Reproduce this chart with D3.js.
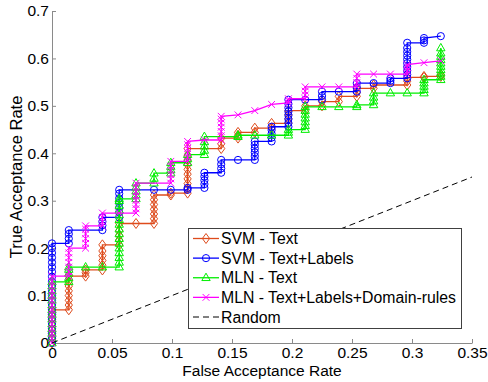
<!DOCTYPE html>
<html>
<head>
<meta charset="utf-8">
<script src="https://cdn.jsdelivr.net/npm/d3@7"></script>
<style>
  body { margin: 0; background: #fff; }
  svg { display: block; font-family: "Liberation Sans", Arial, sans-serif; }
</style>
</head>
<body>
<div id="chart"></div>
<script>
// ROC points, one entry per FAR column: [far, [tar values stacked at that far]]
const svmText = [
  [0.000, [0, .01, .02, .03, .04, .05, .06, .07]],
  [0.014, [.07, .08, .09, .10, .11, .12, .13, .141]],
  [0.028, [.141, .148, .154]],
  [0.042, [.154, .164, .174, .184, .194, .207]],
  [0.056, [.207, .217, .227, .237, .252]],
  [0.070, [.252]],
  [0.085, [.252, .262, .272, .282, .292, .302, .312]],
  [0.099, [.312, .316]],
  [0.113, [.316, .326, .336, .346, .356, .366, .376, .386, .396, .41]],
  [0.141, [.41, .42, .432]],
  [0.155, [.432, .438, .444]],
  [0.169, [.444, .453]],
  [0.183, [.453, .463]],
  [0.197, [.463, .473, .482, .49]],
  [0.211, [.49, .5]],
  [0.225, [.5, .509]],
  [0.239, [.509, .52]],
  [0.254, [.52, .528, .537]],
  [0.268, [.537, .544]],
  [0.296, [.544, .552, .56]],
  [0.310, [.56, .562]],
  [0.324, [.562, .566]]
];

const svmTextLabels = [
  [0.000, [0, .01, .02, .03, .04, .05, .06, .07, .08, .09, .10, .11, .12, .13, .14, .15, .16, .17, .18, .19, .20, .21]],
  [0.014, [.21, .22, .23, .238]],
  [0.042, [.238, .248, .256, .265]],
  [0.056, [.265, .275, .285, .295, .305, .315, .323]],
  [0.085, [.323]],
  [0.099, [.323]],
  [0.113, [.323, .327]],
  [0.127, [.327, .335, .343, .351, .359]],
  [0.141, [.359, .368, .377, .386]],
  [0.155, [.386]],
  [0.169, [.386, .394, .402, .41, .418, .425]],
  [0.183, [.425, .433, .441, .449, .456]],
  [0.197, [.456, .464, .472, .48, .488, .496, .504, .513]],
  [0.211, [.513]],
  [0.225, [.513, .521, .53]],
  [0.239, [.53]],
  [0.254, [.53, .539, .548]],
  [0.268, [.548]],
  [0.282, [.548, .553, .558]],
  [0.296, [.558, .566, .574, .582, .59, .598, .606, .614, .622, .633]],
  [0.310, [.633, .638, .643]],
  [0.324, [.647]]
];

const mlnText = [
  [0.000, [0, .01, .02, .03, .04, .05, .06, .07, .08, .09, .10, .11, .12, .129]],
  [0.014, [.129, .138, .147, .155, .16]],
  [0.028, [.16]],
  [0.042, [.16]],
  [0.056, [.16, .17, .18, .19, .20, .21, .22, .23, .24, .25, .26, .27, .28, .29, .30, .304]],
  [0.070, [.304, .312, .32, .328, .337]],
  [0.085, [.337, .347, .358]],
  [0.099, [.358, .365, .372, .38]],
  [0.113, [.38, .388, .397]],
  [0.127, [.397, .406, .415, .424, .435]],
  [0.155, [.435, .438]],
  [0.169, [.438]],
  [0.183, [.438]],
  [0.197, [.438, .444, .45]],
  [0.211, [.45, .458, .466, .474, .482, .49, .498]],
  [0.225, [.498]],
  [0.239, [.498]],
  [0.254, [.498, .502]],
  [0.268, [.502, .51, .518, .527]],
  [0.282, [.527]],
  [0.296, [.527]],
  [0.310, [.527, .534, .541, .548, .555]],
  [0.324, [.555, .562, .569, .576, .583, .59, .597, .604, .611, .622]]
];

const mlnFull = [
  [0.000, [0, .01, .02, .03, .04, .05, .06, .07, .08, .09, .10, .11, .12, .13, .141]],
  [0.014, [.141, .15, .16, .17, .18, .19, .2]],
  [0.028, [.2, .21, .22, .23, .24, .247]],
  [0.042, [.247, .256, .265, .274]],
  [0.056, [.274]],
  [0.070, [.274, .283, .292, .301, .31, .319, .328, .337]],
  [0.099, [.337, .346, .355, .364, .373, .383]],
  [0.113, [.383, .392, .401, .41, .418, .425]],
  [0.127, [.428]],
  [0.141, [.428, .437, .446, .455, .464, .472, .478]],
  [0.155, [.481]],
  [0.169, [.49]],
  [0.183, [.503]],
  [0.197, [.506, .511, .515]],
  [0.211, [.515, .523, .531, .54]],
  [0.225, [.54]],
  [0.239, [.54]],
  [0.254, [.54, .549, .558, .567]],
  [0.268, [.567]],
  [0.282, [.567]],
  [0.296, [.567, .574, .581, .587]],
  [0.310, [.591]],
  [0.324, [.595]]
];

const randomLine = [[0, 0], [0.35, 0.35]];

const xTicks = [0, 0.05, 0.1, 0.15, 0.2, 0.25, 0.3, 0.35];
const yTicks = [0, 0.1, 0.2, 0.3, 0.4, 0.5, 0.6, 0.7];

const seriesNames = ["SVM - Text", "SVM - Text+Labels", "MLN - Text", "MLN - Text+Labels+Domain-rules", "Random"];

// marker shapes (MATLAB-ish)
const markers = {
  diamond: "M0,-5L3.6,0L0,5L-3.6,0Z",
  circle: d3.symbol().type(d3.symbolCircle).size(Math.PI * 3.6 * 3.6)(),
  triangle: "M0,-4.6L4.2,2.8L-4.2,2.8Z",
  cross: "M-3.4,-3.4L3.4,3.4M-3.4,3.4L3.4,-3.4"
};

const series = [
  { name: seriesNames[0], data: svmText, color: "#de4b1c", marker: "diamond" },
  { name: seriesNames[1], data: svmTextLabels, color: "#0000ff", marker: "circle" },
  { name: seriesNames[2], data: mlnText, color: "#00ee00", marker: "triangle" },
  { name: seriesNames[3], data: mlnFull, color: "#ff00ff", marker: "cross" }
];

const W = 488, H = 382;
const x = d3.scaleLinear().domain([0, 0.35]).range([52, 472]);
const y = d3.scaleLinear().domain([0, 0.7]).range([343, 11]);

const svg = d3.select("#chart").append("svg")
  .attr("width", W)
  .attr("height", H);

// axes (ticks pointing inward, no box)
const xAxis = svg.append("g")
  .attr("transform", "translate(0," + y(0) + ")")
  .call(d3.axisBottom(x).tickValues(xTicks).tickFormat(d3.format("")).tickSizeInner(-4).tickSizeOuter(0).tickPadding(4));
const yAxis = svg.append("g")
  .attr("transform", "translate(" + x(0) + ",0)")
  .call(d3.axisLeft(y).tickValues(yTicks).tickFormat(d3.format("")).tickSizeInner(-4).tickSizeOuter(0).tickPadding(3));

[xAxis, yAxis].forEach(a => {
  a.select(".domain").attr("stroke", "#8a8a8a");
  a.selectAll(".tick line").attr("stroke", "#8a8a8a");
  a.selectAll(".tick text").attr("fill", "#000").style("font-size", "15.5px")
    .style("font-family", "'Liberation Sans', Arial, sans-serif");
});

svg.append("text")
  .attr("x", (x(0) + x(0.35)) / 2)
  .attr("y", 376)
  .attr("text-anchor", "middle")
  .style("font-size", "15.5px")
  .text("False Acceptance Rate");

svg.append("text")
  .attr("transform", "translate(22," + (y(0.35)) + ") rotate(-90)")
  .attr("text-anchor", "middle")
  .style("font-size", "16.5px")
  .text("True Acceptance Rate");

// flatten columns into point lists
function points(cols) {
  const out = [];
  cols.forEach(c => c[1].forEach(v => out.push([c[0], v])));
  return out;
}

const line = d3.line().x(d => x(d[0])).y(d => y(d[1]));

series.forEach(s => {
  const pts = points(s.data);
  const g = svg.append("g");
  g.append("path")
    .datum(pts)
    .attr("fill", "none")
    .attr("stroke", s.color)
    .attr("stroke-width", 1.3)
    .attr("d", line);
  g.selectAll("path.mk")
    .data(pts)
    .enter()
    .append("path")
    .attr("class", "mk")
    .attr("d", markers[s.marker])
    .attr("transform", d => "translate(" + x(d[0]) + "," + y(d[1]) + ")")
    .attr("fill", "none")
    .attr("stroke", s.color)
    .attr("stroke-width", 1);
});

svg.append("path")
  .datum(randomLine)
  .attr("fill", "none")
  .attr("stroke", "#000")
  .attr("stroke-width", 1)
  .attr("stroke-dasharray", "6,4")
  .attr("d", line);

// legend
const lg = svg.append("g");
lg.append("rect")
  .attr("x", 188.5).attr("y", 228.5)
  .attr("width", 273).attr("height", 100)
  .attr("fill", "#fff")
  .attr("stroke", "#404040")
  .attr("stroke-width", 1);

const rowY = d3.scaleLinear().domain([0, 4]).range([238.5, 317]);
seriesNames.forEach((name, i) => {
  const row = lg.append("g").attr("transform", "translate(0," + rowY(i) + ")");
  const s = series[i];
  row.append("line")
    .attr("x1", 193).attr("x2", 219)
    .attr("stroke", s ? s.color : "#000")
    .attr("stroke-width", s ? 1.3 : 1)
    .attr("stroke-dasharray", s ? null : "6,4");
  if (s) {
    row.append("path")
      .attr("d", markers[s.marker])
      .attr("transform", "translate(206,0)")
      .attr("fill", "none")
      .attr("stroke", s.color)
      .attr("stroke-width", 1);
  }
  row.append("text")
    .attr("x", 221)
    .attr("dy", "0.35em")
    .style("font-size", "15.8px")
    .text(name);
});
</script>
</body>
</html>
